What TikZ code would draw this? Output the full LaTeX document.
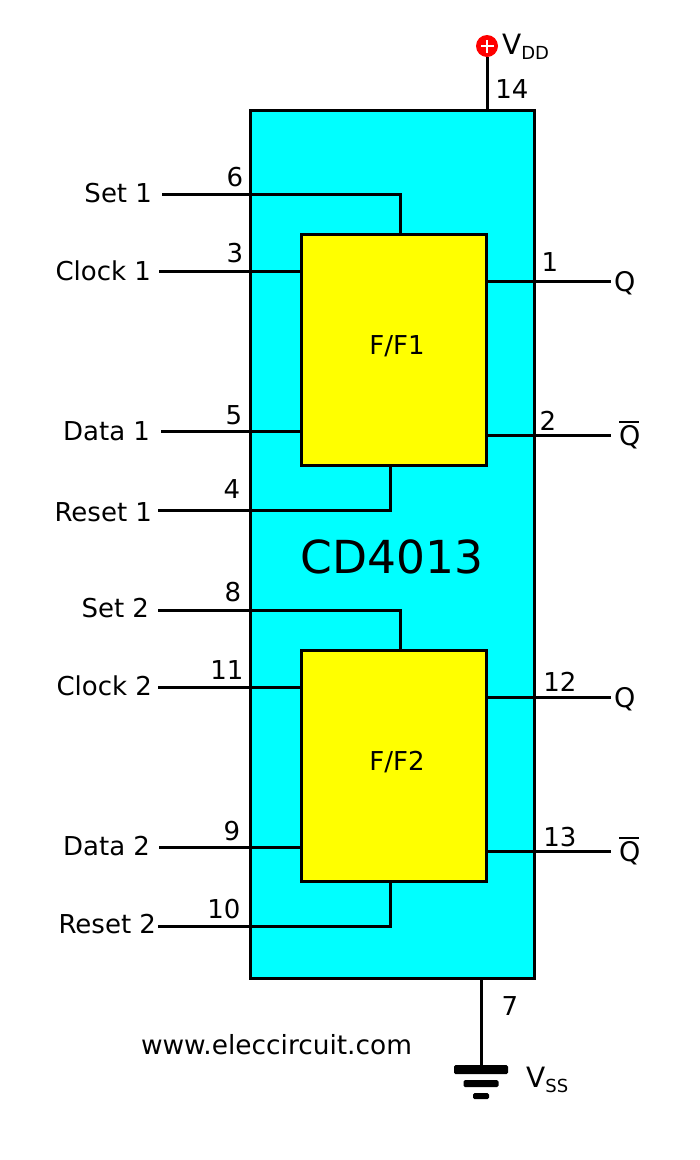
\documentclass[tikz,border=0pt]{standalone}
\usepackage{fontspec}
\setmainfont{DejaVu Sans}
\newcommand{\fsz}[1]{\fontsize{#1}{#1}\selectfont}
\newcommand{\qbar}{\leavevmode\rlap{\raisebox{22pt}{\rule{20pt}{2.5pt}}}Q}
\definecolor{chipcol}{RGB}{0,255,255}
\definecolor{ffcol}{RGB}{255,255,0}
\definecolor{vddcol}{RGB}{255,0,0}
\tikzset{
  wire/.style={draw=black,line width=3pt},
  chipbox/.style={draw=black,line width=3pt,fill=chipcol,minimum width=284pt,minimum height=868pt,inner sep=0pt},
  ffbox/.style={draw=black,line width=3pt,fill=ffcol,minimum width=185pt,minimum height=231pt,inner sep=0pt},
  fftext/.style={inner sep=0pt,font=\fsz{26}},
  sig/.style={inner ysep=0pt,inner xsep=#1,outer sep=0pt,anchor=east,font=\fsz{26},text height=19pt,text depth=0pt},
  outlbl/.style={inner sep=0pt,outer sep=0pt,anchor=west,font=\fsz{27},text height=20pt,text depth=0pt},
  pinno/.style={inner sep=0pt,font=\fsz{26},text height=19pt,text depth=0pt},
  plate/.style={fill=black,rounded corners=1.5pt,inner sep=0pt}
}
\begin{document}
\begin{tikzpicture}[x=1pt,y=-1pt]
\useasboundingbox (0,0) rectangle (700,1160);
% chip and flip-flops
\node[chipbox] (chip) at (392,544) {};
\node[ffbox] (ff1) at (393.5,349.5) {};
\node[ffbox] (ff2) at (393.5,765.5) {};
\node[fftext] (ff1t) at (397,346) {F/F1};
\node[fftext] (ff2t) at (397,762) {F/F2};
\node[inner sep=0pt,font=\fsz{45.5}] (name) at (392,557) {CD4013};
% inner pin points
\coordinate (s1p) at (400,234);
\coordinate (r1p) at (390,465);
\coordinate (s2p) at (400,650);
\coordinate (r2p) at (390,881);
% left labels
\node[sig=10pt] (set1) at (162,194) {\raisebox{1pt}{Set 1}};
\node[sig=8pt] (clk1) at (159,271) {Clock 1};
\node[sig=11pt] (dat1) at (161,431) {Data 1};
\node[sig=6pt] (rst1) at (158,510) {\raisebox{-2pt}{Reset 1}};
\node[sig=9pt] (set2) at (158,610) {\raisebox{2pt}{Set 2}};
\node[sig=6pt] (clk2) at (158,687) {\raisebox{1pt}{Clock 2}};
\node[sig=9pt] (dat2) at (159,847) {\raisebox{1pt}{Data 2}};
\node[sig=2pt] (rst2) at (158,926) {\raisebox{2pt}{Reset 2}};
% right labels
\node[outlbl] (q1) at (614,281) {Q};
\node[outlbl] (qb1) at (619,435) {\qbar};
\node[outlbl] (q2) at (614,697) {Q};
\node[outlbl] (qb2) at (619,851) {\qbar};
% connectors
\draw[wire] (set1.east) -| (s1p);
\draw[wire] (clk1.east) -- (clk1.east -| ff1.west);
\draw[wire] (dat1.east) -- (dat1.east -| ff1.west);
\draw[wire] (rst1.east) -| (r1p);
\draw[wire] (set2.east) -| (s2p);
\draw[wire] (clk2.east) -- (clk2.east -| ff2.west);
\draw[wire] (dat2.east) -- (dat2.east -| ff2.west);
\draw[wire] (rst2.east) -| (r2p);
\draw[wire] (ff1.east |- q1.west) -- ([xshift=-3pt]q1.west);
\draw[wire] (ff1.east |- qb1.west) -- ([xshift=-8pt]qb1.west);
\draw[wire] (ff2.east |- q2.west) -- ([xshift=-3pt]q2.west);
\draw[wire] (ff2.east |- qb2.west) -- ([xshift=-8pt]qb2.west);
% pin numbers
\node[pinno] (n6) at (235,177) {6};
\node[pinno] (n3) at (235,253) {3};
\node[pinno] (n5) at (234,415) {5};
\node[pinno] (n4) at (232,489) {4};
\node[pinno] (n8) at (233,592) {8};
\node[pinno] (n11) at (227,670) {11};
\node[pinno] (n9) at (232,831) {9};
\node[pinno] (n10) at (224,909) {10};
\node[pinno] (n1) at (550,262) {1};
\node[pinno] (n2) at (548,421) {2};
\node[pinno] (n12) at (560,682) {12};
\node[pinno] (n13) at (560,837) {13};
\node[pinno] (n14) at (512,89) {14};
\node[pinno] (n7) at (510,1006) {7};
% supply
\node[circle,fill=vddcol,minimum size=22pt,inner sep=0pt] (vdd) at (487,46) {};
\fill[white] (480.5,44.7) rectangle (493.5,47.3);
\fill[white] (485.7,39.5) rectangle (488.3,52.5);
\draw[wire] (vdd.south) -- (vdd.south |- chip.north);
\node[inner sep=0pt,anchor=base west,font=\fsz{28}] (vddl) at (502,54) {V\raisebox{-5pt}{\fsz{18}DD}};
% ground
\node[plate,minimum width=54pt,minimum height=9pt] (g1) at (481,1069.5) {};
\node[plate,minimum width=35pt,minimum height=7pt] (g2) at (481,1083.5) {};
\node[plate,minimum width=16pt,minimum height=6pt] (g3) at (481,1096) {};
\draw[wire] (g1.north |- chip.south) -- (g1.north);
\node[inner sep=0pt,anchor=base west,font=\fsz{28}] (vssl) at (526,1087) {V\raisebox{-5pt}{\fsz{18}SS}};
\node[inner sep=0pt,anchor=base,font=\fsz{26.4}] (url) at (276.5,1054) {www.eleccircuit.com};
\end{tikzpicture}
\end{document}
